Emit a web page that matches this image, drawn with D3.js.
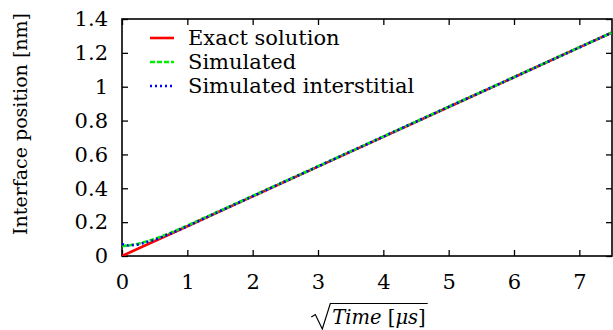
<!DOCTYPE html>
<html>
<head>
<meta charset="utf-8">
<script src="https://cdn.jsdelivr.net/npm/d3@7"></script>
<style>
  body { margin: 0; background: #fff; }
  svg text { font-family: "DejaVu Serif", serif !important; fill: #000; }
</style>
</head>
<body>
<div id="chart"></div>
<script>
// data
const xTicks = [0, 1, 2, 3, 4, 5, 6, 7];
const yTicks = [0, 0.2, 0.4, 0.6, 0.8, 1, 1.2, 1.4];

const exactX = [0, 1, 2, 3, 4, 5, 6, 7, 7.5];
const exactY = [0, 0.176, 0.352, 0.528, 0.704, 0.88, 1.056, 1.232, 1.32];

const simX = [0, 0.1, 0.25, 0.5, 0.75, 1, 1.5, 2, 3, 4, 5, 6, 7, 7.5];
const simY = [0.06, 0.062, 0.072, 0.1, 0.138, 0.18, 0.267, 0.355, 0.53, 0.706, 0.882, 1.057, 1.233, 1.32];

const intX = [0, 0.1, 0.25, 0.5, 0.75, 1, 1.5, 2, 3, 4, 5, 6, 7, 7.5];
const intY = [0.07, 0.062, 0.068, 0.096, 0.134, 0.176, 0.265, 0.353, 0.529, 0.705, 0.881, 1.056, 1.232, 1.32];

const seriesNames = ["Exact solution", "Simulated", "Simulated interstitial"];
const seriesColors = ["#ff0000", "#00ee00", "#0000ff"];
const seriesDash = [null, "5,2", "2,3"];

const W = 613, H = 330;
const margin = { top: 19, right: 1, bottom: 74, left: 122 };
const width = W - margin.left - margin.right;
const height = H - margin.top - margin.bottom;

const svg = d3.select("#chart").append("svg")
  .attr("width", W).attr("height", H);
const g = svg.append("g").attr("transform", `translate(${margin.left},${margin.top})`);

const x = d3.scaleLinear().domain([0, 7.5]).range([0, width]);
const y = d3.scaleLinear().domain([0, 1.4]).range([height, 0]);

const fs = 21;

// axes with inward ticks, mirrored on top and right
const tickLen = 6;
g.append("g").attr("transform", `translate(0,${height})`)
  .call(d3.axisBottom(x).tickValues(xTicks).tickSize(-tickLen).tickPadding(18).tickFormat(d3.format("d")));
g.append("g")
  .call(d3.axisTop(x).tickValues(xTicks).tickSize(-tickLen).tickFormat(""));
g.append("g")
  .call(d3.axisLeft(y).tickValues(yTicks).tickSize(-tickLen).tickPadding(14).tickFormat(d => d));
g.append("g").attr("transform", `translate(${width},0)`)
  .call(d3.axisRight(y).tickValues(yTicks).tickSize(-tickLen).tickFormat(""));
g.selectAll(".domain").remove();
g.selectAll(".tick line").attr("stroke", "#000").attr("stroke-width", 1.3);
g.selectAll(".tick text").style("font-size", fs + "px");

g.append("rect").attr("width", width).attr("height", height)
  .attr("fill", "none").attr("stroke", "#000").attr("stroke-width", 1.6);

// series
const line = d3.line().x(d => x(d[0])).y(d => y(d[1]));
const series = [
  d3.zip(exactX, exactY),
  d3.zip(simX, simY),
  d3.zip(intX, intY)
];
svg.append("clipPath").attr("id", "clip")
  .append("rect").attr("width", width).attr("height", height);
const plot = g.append("g").attr("clip-path", "url(#clip)");
series.forEach((s, i) => {
  plot.append("path").datum(s)
    .attr("d", line)
    .attr("fill", "none")
    .attr("stroke", seriesColors[i])
    .attr("stroke-width", 2.6)
    .attr("stroke-dasharray", seriesDash[i]);
});

// legend
const legend = g.append("g").attr("transform", "translate(28,19)");
seriesNames.forEach((name, i) => {
  const row = legend.append("g").attr("transform", `translate(0,${i * 24})`);
  row.append("line").attr("x1", 0).attr("x2", 24)
    .attr("stroke", seriesColors[i]).attr("stroke-width", 2.6)
    .attr("stroke-dasharray", seriesDash[i]);
  row.append("text").attr("x", 38).attr("dy", "0.33em")
    .style("font-size", fs + "px").text(name);
});

// y label
svg.append("text")
  .attr("transform", "translate(20,124) rotate(-90)")
  .attr("text-anchor", "middle").attr("dy", "0.35em")
  .style("font-size", "19px")
  .text("Interface position [nm]");

// x label: sqrt(Time [mu s]) with overbar
const xl = svg.append("g");
const lab = xl.append("text").attr("y", 324).style("font-size", "19.5px");
lab.append("tspan").style("font-style", "italic").text("Time");
lab.append("tspan").text(" [");
lab.append("tspan").style("font-style", "italic").text("μs");
lab.append("tspan").text("]");
const lw = lab.node().getComputedTextLength();
const cx = 379;
const x0 = cx - lw / 2;
lab.attr("x", x0);
// radical sign and overbar
const barY = 303.5;
xl.append("path")
  .attr("d", `M${x0 - 21},317 L${x0 - 17},314.5 L${x0 - 10},329 L${x0 - 2},${barY} L${x0 + lw + 2},${barY}`)
  .attr("fill", "none").attr("stroke", "#000").attr("stroke-width", 1.2)
  .attr("stroke-linejoin", "miter");
</script>
</body>
</html>
